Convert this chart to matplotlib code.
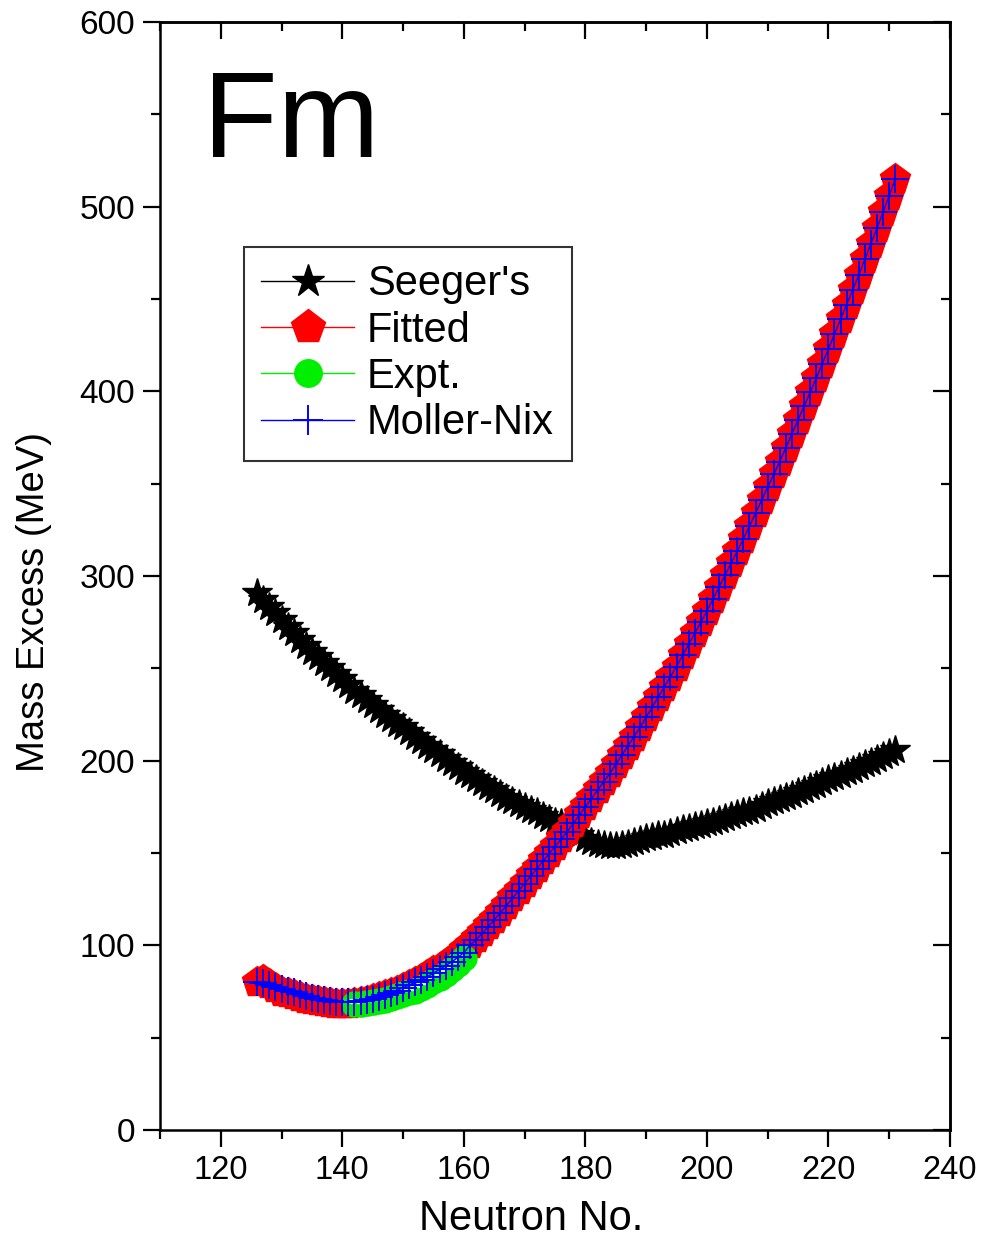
import matplotlib
matplotlib.use("Agg")
import matplotlib.pyplot as plt
from matplotlib.transforms import offset_copy
from matplotlib.ticker import MultipleLocator

plt.rcParams['font.family'] = ['Liberation Sans', 'DejaVu Sans']

# neutron numbers
n_all = list(range(126, 232))
n_expt = list(range(142, 161))

seeger = [291, 287, 283, 280, 276, 272.5, 269, 265.5, 262, 259,
          256, 253, 250, 247, 244, 241, 238, 235.5, 233, 230,
          227.5, 225, 222.5, 220, 218, 215.5, 213, 210.5, 208, 206,
          203.5, 201, 199, 196.5, 194, 192, 190, 188, 186, 184,
          182, 180, 178, 176.5, 175, 173.5, 172, 170, 168.5, 167,
          166, 165, 163.5, 160, 157.5, 156, 155, 154.5, 154, 154,
          154.5, 155, 156, 157, 158, 158.5, 159.5, 160, 161, 162,
          163, 163.5, 164.5, 165, 166, 167, 168, 169, 170, 171,
          172, 173, 174, 175.5, 177, 178, 179, 180.5, 181.5, 183,
          184, 185.5, 187, 188.5, 190, 191, 192.5, 194, 195, 196.5,
          198, 199.5, 201, 202.5, 204, 206]

fitted = [80, 81, 79, 77, 75, 74, 73, 72, 71, 70.5,
          70, 69.5, 69, 68.5, 68.5, 68.5, 69, 69.5, 70, 71,
          72, 73, 74, 75.5, 77, 78.5, 80, 82, 84, 86,
          88, 90, 92.5, 95, 98, 101, 104, 107.5, 111, 114.5,
          118, 122, 126, 130, 134, 138, 142, 146, 150, 154,
          158, 162, 166.5, 171, 175.5, 180, 184.5, 189, 193.5, 198,
          203, 208, 213, 218, 223.5, 229, 234.5, 240, 245.5, 251,
          257, 263, 269, 275, 281, 287.5, 294, 300.5, 307, 313.5,
          320, 327, 334, 341, 348, 355, 362, 369.5, 377, 384.5,
          392, 399.5, 407, 415, 423, 431, 439, 447, 455, 463,
          471.5, 480, 488.5, 497, 506, 515]

expt = [68, 68.5, 69, 69.5, 70, 70.5, 71.5, 72.5, 73.5, 74.5,
        75.5, 77, 78.5, 80.5, 82.5, 84.5, 87, 90, 93]

moller = [80, 79.5, 78.5, 77.5, 76.5, 75.5, 74.5, 73.5, 72.5, 71.5,
          71, 70.5, 70, 69.5, 69.5, 69.5, 69.5, 70, 70.5, 71,
          72, 73, 74, 75.5, 77, 78.5, 80, 81.5, 83, 85,
          87, 89, 91, 93.5, 96, 100, 103, 106.5, 110, 114,
          117.5, 121.5, 125.5, 129.5, 133.5, 137.5, 141.5, 145.5, 149.5, 153.5,
          157.5, 161.5, 166, 170.5, 175, 179.5, 184, 188.5, 193, 198,
          203, 208, 213, 218, 223.5, 229, 234.5, 240, 245.5, 251,
          257, 263, 269, 275, 281, 287.5, 294, 300.5, 307, 313.5,
          320, 327, 334, 341, 348, 355, 362, 369.5, 377, 384.5,
          392, 399.5, 407, 415, 423, 431, 439, 447, 455, 463,
          471.5, 480, 488.5, 497, 506, 515]

fig = plt.figure(figsize=(9.84, 12.41), dpi=100)
ax = fig.add_axes([0.1626, 0.0894, 0.8028, 0.8929])

ax.plot(n_all, seeger, color='black', lw=1, marker='*', ms=22,
        mfc='black', mec='black', label="Seeger's", zorder=2)
ax.plot(n_all, fitted, color='red', lw=1, marker='p', ms=23,
        mfc='red', mec='red', label='Fitted', zorder=3)
ax.plot(n_expt, expt, color='#00ee00', lw=1, marker='o', ms=18,
        mfc='#00ee00', mec='#00ee00', label='Expt.', zorder=4)
# shiny highlight on the green balls
hl = offset_copy(ax.transData, fig=fig, x=-3, y=3, units='dots')
ax.plot(n_expt, expt, ls='none', marker='o', ms=4, mfc='#b8ffb8',
        mec='none', transform=hl, zorder=4.5)
ax.plot(n_all, moller, color='blue', lw=1, marker='+', ms=20, mew=1.4,
        mec='blue', label='Moller-Nix', zorder=5)

ax.set_xlim(110, 240)
ax.set_ylim(0, 600)
ax.xaxis.set_major_locator(MultipleLocator(20))
ax.xaxis.set_minor_locator(MultipleLocator(10))
ax.yaxis.set_major_locator(MultipleLocator(100))
ax.yaxis.set_minor_locator(MultipleLocator(50))
ax.tick_params(which='major', direction='out', length=12, width=1.6, pad=6)
ax.tick_params(which='minor', direction='out', length=6.5, width=1.6)
ax.tick_params(axis='x', labelsize=23.5)
ax.tick_params(axis='y', labelsize=24)
ax.set_xticks(range(120, 241, 20))

for s in ax.spines.values():
    s.set_linewidth(1.8)

# top / right ticks point inwards
top = ax.secondary_xaxis('top')
top.xaxis.set_major_locator(MultipleLocator(20))
top.xaxis.set_minor_locator(MultipleLocator(10))
top.tick_params(which='major', direction='in', length=12, width=1.6, labeltop=False)
top.tick_params(which='minor', direction='in', length=6.5, width=1.6)
top.spines['top'].set_linewidth(1.8)
right = ax.secondary_yaxis('right')
right.yaxis.set_major_locator(MultipleLocator(100))
right.yaxis.set_minor_locator(MultipleLocator(50))
right.tick_params(which='major', direction='in', length=12, width=1.6, labelright=False)
right.tick_params(which='minor', direction='in', length=6.5, width=1.6)
right.spines['right'].set_linewidth(1.8)

ax.set_xlabel('Neutron No.', fontsize=30, labelpad=9)
ax.xaxis.label.set_x(0.47)
ax.set_ylabel('Mass Excess (MeV)', fontsize=27.5, labelpad=20)
ax.yaxis.label.set_y(0.4765)

ax.text(0.055, 0.878, 'Fm', transform=ax.transAxes, fontsize=88)

leg = ax.legend(loc='upper left', bbox_to_anchor=(0.106, 0.797), fontsize=30,
                frameon=True, fancybox=False, edgecolor='black',
                handlelength=2.23, handletextpad=0.31, labelspacing=0.15,
                borderpad=0.42, borderaxespad=0)
leg.get_frame().set_linewidth(1.5)
for h in leg.legend_handles:
    h.set_markersize(h.get_markersize() * 1.1)

fig.savefig('out.png', dpi=100)
